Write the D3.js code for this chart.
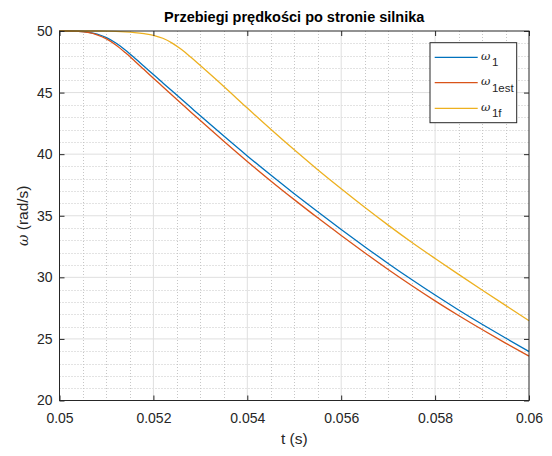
<!DOCTYPE html>
<html>
<head>
<meta charset="utf-8">
<script src="https://cdn.jsdelivr.net/npm/d3@7"></script>
<style>
  html, body { margin: 0; padding: 0; background: #ffffff; }
  svg { display: block; font-family: "Liberation Sans", Arial, Helvetica, sans-serif; }
</style>
</head>
<body>
<svg id="chart" width="552" height="456"></svg>
<script>
// Time samples (s)
const time = [0.05, 0.0502, 0.0504, 0.0506, 0.0508, 0.051, 0.0512, 0.0514, 0.0516, 0.0518,
              0.052, 0.0522, 0.0524, 0.0526, 0.0528, 0.053, 0.0535, 0.054, 0.0545, 0.055,
              0.0555, 0.056, 0.0565, 0.057, 0.0575, 0.058, 0.0585, 0.059, 0.0595, 0.06];

// Motor-side speed (rad/s)
const omega1 = [50.00, 50.00, 49.98, 49.91, 49.75, 49.46, 49.02, 48.45, 47.81, 47.14,
                46.46, 45.79, 45.12, 44.45, 43.78, 43.11, 41.47, 39.86, 38.30, 36.79,
                35.32, 33.89, 32.49, 31.13, 29.82, 28.56, 27.35, 26.19, 25.07, 23.98];

// Estimated speed (rad/s)
const omega1est = [50.00, 50.00, 49.97, 49.88, 49.69, 49.36, 48.87, 48.25, 47.57, 46.87,
                   46.17, 45.48, 44.79, 44.10, 43.41, 42.73, 41.05, 39.41, 37.83, 36.31,
                   34.83, 33.40, 32.00, 30.64, 29.34, 28.09, 26.90, 25.76, 24.66, 23.60];

// Filtered speed (rad/s)
const omega1f = [50.00, 50.00, 50.00, 50.00, 50.00, 49.99, 49.97, 49.93, 49.87, 49.78,
                 49.65, 49.41, 49.02, 48.49, 47.86, 47.19, 45.49, 43.74, 42.02, 40.35,
                 38.74, 37.19, 35.69, 34.24, 32.85, 31.53, 30.24, 28.97, 27.72, 26.48];

const seriesNames = ["1", "1est", "1f"];          // subscripts of ω in the legend
const seriesColors = ["#0072BD", "#D95319", "#EDB120"];

const xTicks = [0.05, 0.052, 0.054, 0.056, 0.058, 0.06];
const xTickLabels = ["0.05", "0.052", "0.054", "0.056", "0.058", "0.06"];
const yTicks = [20, 25, 30, 35, 40, 45, 50];
const yTickLabels = ["20", "25", "30", "35", "40", "45", "50"];

const titleText = "Przebiegi prędkości po stronie silnika";
const xLabelText = "t (s)";

// ---- layout ----
const svg = d3.select("#chart");
const L = 59.5, R = 529, T = 31, B = 400.5;
const axisColor = "#262626";

const x = d3.scaleLinear().domain([0.05, 0.06]).range([L, R]);
const y = d3.scaleLinear().domain([20, 50]).range([B, T]);

svg.append("rect").attr("x", 0).attr("y", 0).attr("width", 552).attr("height", 456).attr("fill", "#fff");

// minor grid (dotted)
const minorX = d3.range(0, 21).map(i => 0.05 + i * 0.0005).filter((v, i) => i % 4 !== 0);
const minorY = d3.range(20, 51, 1).filter(v => v % 5 !== 0);
const grid = svg.append("g");
grid.selectAll("line.mx").data(minorX).join("line")
  .attr("x1", d => Math.round(x(d)) + 0.5).attr("x2", d => Math.round(x(d)) + 0.5)
  .attr("y1", T).attr("y2", B)
  .attr("stroke", "#c6c6c6").attr("stroke-width", 1).attr("stroke-dasharray", "1,2");
grid.selectAll("line.my").data(minorY).join("line")
  .attr("y1", d => Math.round(y(d)) + 0.5).attr("y2", d => Math.round(y(d)) + 0.5)
  .attr("x1", L).attr("x2", R)
  .attr("stroke", "#c6c6c6").attr("stroke-width", 1).attr("stroke-dasharray", "1,2");

// major grid
grid.selectAll("line.gx").data(xTicks.slice(1, -1)).join("line")
  .attr("x1", d => x(d)).attr("x2", d => x(d))
  .attr("y1", T).attr("y2", B)
  .attr("stroke", "#dfdfdf").attr("stroke-width", 1);
grid.selectAll("line.gy").data(yTicks.slice(1, -1)).join("line")
  .attr("y1", d => y(d)).attr("y2", d => y(d))
  .attr("x1", L).attr("x2", R)
  .attr("stroke", "#dfdfdf").attr("stroke-width", 1);

// curves
const series = [omega1, omega1est, omega1f];
const line = d3.line()
  .x((d, i) => x(time[i]))
  .y(d => y(d))
  .curve(d3.curveMonotoneX);
const curves = svg.append("g");
series.forEach((s, k) => {
  curves.append("path")
    .attr("d", line(s))
    .attr("fill", "none")
    .attr("stroke", seriesColors[k])
    .attr("stroke-width", 1.3);
});

// axes: labels on bottom/left, inward ticks on all four sides
const fontSize = 14;
const xAxis = d3.axisBottom(x).tickValues(xTicks)
  .tickFormat((d, i) => xTickLabels[i]).tickSizeInner(-5).tickSizeOuter(0).tickPadding(12.5);
const yAxis = d3.axisLeft(y).tickValues(yTicks)
  .tickFormat((d, i) => yTickLabels[i]).tickSizeInner(-5).tickSizeOuter(0).tickPadding(7);
const xAxisTop = d3.axisTop(x).tickValues(xTicks).tickFormat("").tickSizeInner(-5).tickSizeOuter(0);
const yAxisRight = d3.axisRight(y).tickValues(yTicks).tickFormat("").tickSizeInner(-5).tickSizeOuter(0);

function styleAxis(g) {
  g.select(".domain").remove();
  g.selectAll(".tick line").attr("stroke", axisColor).attr("stroke-width", 1);
  g.selectAll(".tick text").attr("fill", axisColor).attr("font-size", fontSize)
    .attr("font-family", "Liberation Sans, Arial, sans-serif");
}
svg.append("g").attr("transform", `translate(0,${B})`).call(xAxis).call(styleAxis);
svg.append("g").attr("transform", `translate(${L},0)`).call(yAxis).call(styleAxis);
svg.append("g").attr("transform", `translate(0,${T})`).call(xAxisTop).call(styleAxis);
svg.append("g").attr("transform", `translate(${R},0)`).call(yAxisRight).call(styleAxis);

// axes box
svg.append("rect")
  .attr("x", L).attr("y", T).attr("width", R - L).attr("height", B - T)
  .attr("fill", "none").attr("stroke", axisColor).attr("stroke-width", 1);

// title
svg.append("text")
  .attr("x", (L + R) / 2).attr("y", 22)
  .attr("text-anchor", "middle")
  .attr("font-size", 14.5).attr("font-weight", "bold").attr("fill", "#000")
  .text(titleText);

// x label
svg.append("text")
  .attr("x", (L + R) / 2).attr("y", 444)
  .attr("text-anchor", "middle")
  .attr("font-size", 15.5).attr("fill", axisColor)
  .text(xLabelText);

// y label: ω (rad/s)
const yl = svg.append("text")
  .attr("transform", `translate(28,${(T + B) / 2}) rotate(-90)`)
  .attr("text-anchor", "middle")
  .attr("font-size", 15.5).attr("fill", axisColor);
yl.append("tspan").attr("font-style", "italic").attr("font-family", "DejaVu Serif, serif")
  .attr("font-size", 14).text("ω");
yl.append("tspan").text(" (rad/s)");

// legend
const legend = svg.append("g");
const lgX = 430, lgY = 42.7, lgW = 86.7, lgH = 80;
legend.append("rect")
  .attr("x", lgX).attr("y", lgY).attr("width", lgW).attr("height", lgH)
  .attr("fill", "#fff").attr("stroke", axisColor).attr("stroke-width", 1);
const rowY = [57.3, 82.7, 108.3];
seriesNames.forEach((name, k) => {
  legend.append("line")
    .attr("x1", 434.7).attr("x2", 477.7)
    .attr("y1", rowY[k]).attr("y2", rowY[k])
    .attr("stroke", seriesColors[k]).attr("stroke-width", 1.3);
  const t = legend.append("text")
    .attr("x", 481).attr("y", rowY[k] + 2.5)
    .attr("fill", axisColor);
  t.append("tspan").attr("font-style", "italic").attr("font-family", "DejaVu Serif, serif")
    .attr("font-size", 11.5).text("ω");
  t.append("tspan").attr("dy", 6.5).attr("dx", 1.5).attr("font-size", 11.5).text(name);
});
</script>
</body>
</html>
